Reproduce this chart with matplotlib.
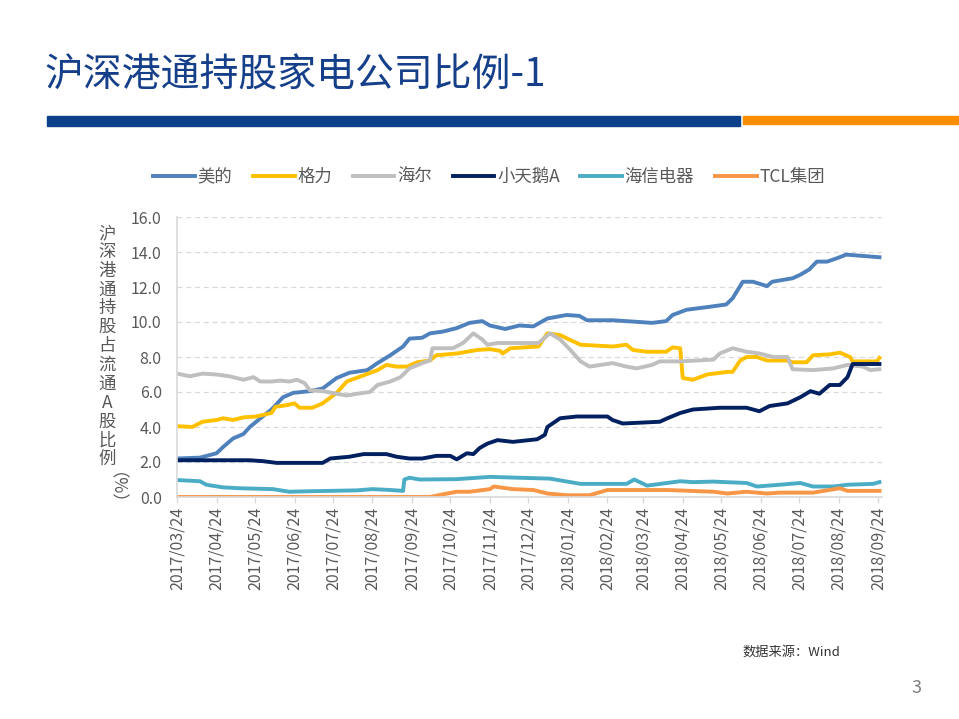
import matplotlib
matplotlib.use("Agg")
import matplotlib.pyplot as plt
import matplotlib.dates as mdates
from matplotlib.patches import Rectangle
import numpy as np
import pandas as pd

plt.rcParams['font.family'] = ['Noto Sans CJK SC', 'DejaVu Sans']

# === Data (day offset from 2017-03-24, holding ratio %) ===
start_date = pd.Timestamp("2017-03-24")
end_day = 552

midea_days = [0, 18, 31, 36, 44, 52, 57, 67, 74, 83, 91, 104, 114, 125, 135, 149, 157, 167, 177, 182,
              192, 198, 208, 219, 229, 239, 245, 257, 268, 279, 290, 305, 315, 321, 341, 362, 372, 383,
              388, 399, 415, 430, 435, 443, 451, 462, 466, 482, 488, 495, 501, 509, 517, 524, 550]
midea_vals = [2.2, 2.25, 2.5, 2.85, 3.35, 3.6, 4.0, 4.6, 5.0, 5.7, 5.95, 6.05, 6.2, 6.8, 7.1, 7.25, 7.65,
              8.1, 8.6, 9.05, 9.1, 9.35, 9.45, 9.65, 9.95, 10.05, 9.8, 9.6, 9.8, 9.75, 10.2, 10.4, 10.35,
              10.1, 10.1, 10.0, 9.95, 10.05, 10.4, 10.7, 10.85, 11.0, 11.35, 12.3, 12.3, 12.05, 12.3,
              12.5, 12.7, 13.0, 13.45, 13.45, 13.65, 13.85, 13.7]

gree_days = [0, 12, 20, 31, 36, 44, 52, 62, 74, 77, 86, 92, 96, 106, 114, 125, 133, 146, 157, 164, 172,
             180, 188, 198, 203, 219, 235, 245, 253, 255, 261, 283, 290, 300, 310, 316, 341, 352, 357,
             368, 383, 388, 394, 396, 404, 415, 431, 435, 441, 446, 454, 462, 478, 482, 493, 498, 511,
             519, 527, 529, 548, 550]
gree_vals = [4.05, 4.0, 4.3, 4.4, 4.5, 4.4, 4.55, 4.6, 4.8, 5.15, 5.25, 5.35, 5.1, 5.1, 5.35, 5.95, 6.6,
             6.95, 7.25, 7.55, 7.45, 7.45, 7.7, 7.8, 8.1, 8.2, 8.4, 8.45, 8.35, 8.2, 8.5, 8.6, 9.35, 9.25,
             8.9, 8.7, 8.6, 8.7, 8.4, 8.3, 8.3, 8.55, 8.5, 6.8, 6.7, 7.0, 7.15, 7.15, 7.8, 8.0, 8.0, 7.8,
             7.8, 7.7, 7.7, 8.1, 8.15, 8.25, 8.0, 7.75, 7.75, 7.95]

haier_days = [0, 10, 20, 31, 41, 52, 60, 65, 74, 81, 88, 94, 100, 104, 114, 125, 133, 141, 151, 157,
              167, 175, 182, 192, 198, 200, 208, 216, 224, 232, 239, 243, 251, 263, 283, 287, 292, 300,
              308, 316, 323, 341, 352, 360, 372, 378, 394, 420, 425, 435, 446, 456, 467, 478, 482, 498,
              514, 525, 537, 543, 550]
haier_vals = [7.05, 6.9, 7.05, 7.0, 6.9, 6.7, 6.85, 6.6, 6.6, 6.65, 6.6, 6.7, 6.5, 6.1, 6.05, 5.9, 5.8,
              5.9, 6.0, 6.4, 6.6, 6.85, 7.35, 7.65, 7.8, 8.5, 8.5, 8.5, 8.8, 9.35, 9.0, 8.7, 8.8, 8.8,
              8.8, 9.05, 9.35, 9.0, 8.4, 7.75, 7.45, 7.65, 7.45, 7.35, 7.55, 7.75, 7.75, 7.85, 8.2, 8.5,
              8.3, 8.2, 8.0, 8.0, 7.3, 7.25, 7.35, 7.55, 7.45, 7.25, 7.3]

swan_days = [0, 57, 67, 78, 114, 120, 135, 146, 164, 172, 182, 192, 203, 214, 219, 227, 232, 237, 243,
             251, 263, 282, 288, 290, 300, 313, 337, 341, 349, 378, 384, 394, 404, 425, 446, 456, 464,
             478, 488, 496, 503, 511, 519, 525, 529, 550]
swan_vals = [2.1, 2.1, 2.05, 1.95, 1.95, 2.2, 2.3, 2.45, 2.45, 2.3, 2.2, 2.2, 2.35, 2.35, 2.15, 2.5,
             2.45, 2.8, 3.05, 3.25, 3.15, 3.3, 3.55, 4.0, 4.5, 4.6, 4.6, 4.4, 4.2, 4.3, 4.5, 4.8, 5.0,
             5.1, 5.1, 4.9, 5.2, 5.35, 5.7, 6.05, 5.9, 6.4, 6.4, 6.85, 7.6, 7.6]

hisense_days = [0, 18, 23, 36, 49, 75, 88, 104, 120, 141, 153, 167, 177, 178, 182, 190, 219, 245, 268,
                292, 316, 352, 358, 368, 394, 404, 420, 446, 454, 472, 488, 498, 514, 525, 545, 550]
hisense_vals = [0.97, 0.9, 0.7, 0.55, 0.5, 0.45, 0.3, 0.33, 0.35, 0.38, 0.45, 0.4, 0.35, 1.0, 1.1, 1.0,
                1.02, 1.15, 1.1, 1.05, 0.75, 0.75, 1.0, 0.65, 0.9, 0.85, 0.88, 0.8, 0.6, 0.7, 0.8, 0.6,
                0.6, 0.7, 0.75, 0.85]

tcl_days = [0, 198, 208, 219, 229, 245, 248, 263, 279, 290, 305, 323, 337, 368, 384, 420, 431, 446, 462,
            472, 498, 519, 525, 550]
tcl_vals = [0.0, 0.0, 0.15, 0.3, 0.3, 0.45, 0.6, 0.45, 0.4, 0.2, 0.1, 0.1, 0.4, 0.4, 0.4, 0.3, 0.2, 0.3,
            0.2, 0.25, 0.25, 0.5, 0.35, 0.35]

series = [
    ("美的", midea_days, midea_vals, "#4F81BD"),
    ("格力", gree_days, gree_vals, "#FFC000"),
    ("海尔", haier_days, haier_vals, "#BFBFBF"),
    ("小天鹅A", swan_days, swan_vals, "#002060"),
    ("海信电器", hisense_days, hisense_vals, "#4BACC6"),
    ("TCL集团", tcl_days, tcl_vals, "#F79646"),
]

y_ticks = [0, 2, 4, 6, 8, 10, 12, 14, 16]

TEXT_GRAY = "#595959"
GRID_GRAY = "#D9D9D9"

fig = plt.figure(figsize=(9.59, 7.19), dpi=100)

# title + header bars
fig.text(44 / 959, 1 - 76 / 719, "沪深港通持股家电公司比例-1", fontsize=28,
         color="#163F8A", va="center", ha="left")
fig.patches.append(Rectangle((47 / 959, 1 - 126 / 719), 693 / 959, 10 / 719,
                             transform=fig.transFigure, color="#0D408A", zorder=1))
fig.patches.append(Rectangle((743 / 959, 1 - 124 / 719), 216 / 959, 8 / 719,
                             transform=fig.transFigure, color="#FB8E00", zorder=1))

ax = fig.add_axes([177 / 959, 1 - 497 / 719, 705 / 959, 280 / 719])

for name, days, vals, color in series:
    dates = start_date + pd.to_timedelta(days, unit="D")
    ax.plot(dates, vals, color=color, linewidth=2.8, label=name, solid_joinstyle="round")

ax.set_ylim(0, 16)
ax.set_yticks(y_ticks)
ax.set_yticklabels([f"{v:.1f}" for v in y_ticks])
ax.set_xlim(start_date, start_date + pd.Timedelta(days=end_day))
ax.xaxis.set_major_locator(mdates.MonthLocator(bymonthday=24))
ax.xaxis.set_major_formatter(mdates.DateFormatter("%Y/%m/%d"))

ax.grid(axis="y", color=GRID_GRAY, linestyle=(0, (4, 3)), linewidth=0.9)
ax.set_axisbelow(True)
for side in ("top", "right"):
    ax.spines[side].set_visible(False)
for side in ("left", "bottom"):
    ax.spines[side].set_color(GRID_GRAY)
    ax.spines[side].set_linewidth(1.2)

ax.tick_params(axis="y", length=0, pad=11, labelsize=11.5, labelcolor=TEXT_GRAY)
ax.tick_params(axis="x", length=4, width=1, color=GRID_GRAY, pad=3, labelsize=11.5,
               labelcolor=TEXT_GRAY, labelrotation=90)

# vertical y label: stacked characters + rotated (%)
fig.text(107 / 959, 1 - 346 / 719, "\n".join("沪深港通持股占流通A股比例"), fontsize=12.5,
         color=TEXT_GRAY, ha="center", va="center", linespacing=1.06)
fig.text(107 / 959, 1 - 497 / 719, "（%）", fontsize=12.5, color=TEXT_GRAY,
         ha="center", va="center", rotation=270)

fig.legend(loc="center", bbox_to_anchor=(489 / 959, 1 - 177 / 719), ncol=6, frameon=False,
           fontsize=12.5, handlelength=2.4, handletextpad=0.15, columnspacing=1.2,
           labelcolor=TEXT_GRAY)

fig.text(742 / 959, 1 - 652 / 719, "数据来源：Wind", fontsize=9.5, color="#333333",
         ha="left", va="center")
fig.text(912 / 959, 1 - 688 / 719, "3", fontsize=13, color="#7F7F7F", ha="left", va="center")

fig.savefig("out.png", dpi=100)
